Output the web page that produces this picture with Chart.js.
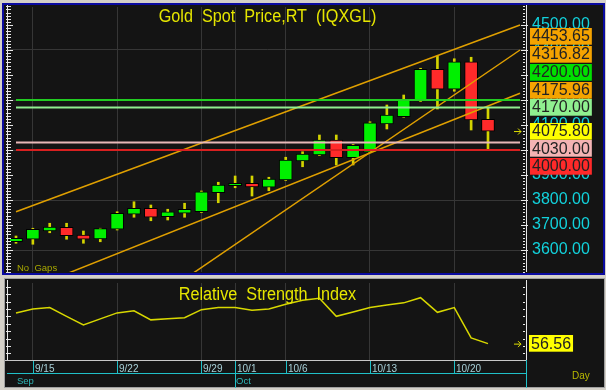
<!DOCTYPE html>
<html><head><meta charset="utf-8">
<script src="https://cdn.jsdelivr.net/npm/chart.js@4.4.1/dist/chart.umd.min.js"></script>
<style>
html,body{margin:0;padding:0;}
body{width:606px;height:390px;background:#d4d0c8;position:relative;overflow:hidden;}
#p1{position:absolute;left:2px;top:3px;width:599px;height:268px;border:2px solid #0a0aa0;background:#141414;}
#p2{position:absolute;left:4px;top:278px;width:599px;height:108px;border:1px solid #a0a0a0;background:#141414;}
#c1{position:absolute;left:0;top:0;}
#c2{position:absolute;left:0;top:276px;}
</style></head>
<body>
<div id="p1"></div><div id="p2"></div>
<canvas id="c1" width="606" height="276"></canvas>
<canvas id="c2" width="606" height="114"></canvas>
<script>
// ---------- data ----------
const dates  = ['9/12','9/15','9/16','9/17','9/18','9/19','9/22','9/23','9/24','9/25','9/26','9/29','9/30','10/1','10/2','10/3','10/6','10/7','10/8','10/9','10/10','10/13','10/14','10/15','10/16','10/17','10/20','10/21','10/22'];
const months = ['Sep','Oct'];
const monthStart = ['9/12','10/1'];
const axisDates = ['9/15','9/22','9/29','10/1','10/6','10/13','10/20'];
const opens  = [3633,3643,3676,3691,3660,3644,3683,3743,3767,3733,3747,3753,3829,3857,3867,3851,3880,3956,3980,4040,3969,3991,4104,4133,4196,4323,4243,4353,4123];
const highs  = [3656,3687,3707,3707,3676,3687,3753,3793,3780,3763,3787,3836,3871,3896,3896,3891,3971,3993,4060,4060,4022,4113,4180,4220,4327,4376,4365,4371,4167];
const lows   = [3627,3623,3669,3643,3627,3633,3680,3731,3717,3720,3731,3750,3789,3849,3816,3837,3878,3933,3978,3940,3940,3989,4084,4131,4194,4164,4235,4080,4000];
const closes = [3647,3683,3692,3657,3643,3686,3747,3767,3731,3753,3763,3833,3860,3867,3852,3884,3960,3984,4040,3969,4019,4109,4140,4203,4323,4243,4353,4120,4075.8];
const rsi    = [77.3,80.0,80.9,75.0,69.2,73.3,77.3,78.7,72.6,73.3,74.1,79.5,80.9,80.9,79.1,80.0,83.1,85.8,87.2,75.0,77.9,80.9,82.7,84.1,87.6,77.7,80.9,60.4,56.56];
const priceTicks = [4500,4400,4300,4200,4100,4000,3900,3800,3700,3600];
const gridPrices = [4400,4200,4000,3800,3600];
const rsiTicks   = [50,55,60,65,70,75,80,85,90,95];
const levels     = [4200,4170,4030,4000];
const levelSpan  = [0,29.9];
const trendStartX = [0,10.5,3.08];
const trendStartY = [3753,3507,3507];
const trendEndX   = [29.9,29.9,29.9];
const trendEndY   = [4500,4400,4227];
const markerValues = [4453.65,4316.82,4200.00,4175.96,4170.00,4075.80,4030.00,4000.00];
const lastPrice = 4075.80;
const rsiLast = 56.56;

// ---------- styles ----------
const FONT = '"Liberation Sans", Arial, sans-serif';
const levelColors  = ['#22cc22','#90ee90','#e8b8b8','#d82020'];
const markerColors = ['#f5a300','#f5a300','#00e000','#f5a300','#90f090','#ffff00','#f4b4b4','#ff2a2a'];
const X_MIN = -0.4746, X_MAX = 30.314;
const idx = dates.map((d,i)=>i);
const gridIdx = axisDates.map(d=>dates.indexOf(d));
const up = idx.map(i=>closes[i]>=opens[i]);

function xScaleOpts(){
  return {type:'linear', min:X_MIN, max:X_MAX, offset:false,
    grid:{color:'#363636', lineWidth:1, drawTicks:false, offset:false},
    border:{display:false}, ticks:{display:false},
    afterBuildTicks:s=>{s.ticks = gridIdx.map(v=>({value:v}));},
    afterFit:s=>{s.height=0;}};
}

function arrow(ctx,x,y){
  ctx.save(); ctx.strokeStyle='#e0e000'; ctx.lineWidth=1;
  ctx.beginPath(); ctx.moveTo(x-7,y+0.5); ctx.lineTo(x,y+0.5);
  ctx.moveTo(x-3,y-2.5); ctx.lineTo(x,y+0.5); ctx.lineTo(x-3,y+3.5); ctx.stroke(); ctx.restore();
}
function vAxis(ctx, x, top, bottom, minor, major, dir){
  ctx.save(); ctx.strokeStyle='#e8e8e8'; ctx.lineWidth=1;
  ctx.beginPath(); ctx.moveTo(x+0.5,top); ctx.lineTo(x+0.5,bottom); ctx.stroke();
  ctx.beginPath();
  minor.forEach(y=>{ ctx.moveTo(x-1,Math.round(y)+0.5); ctx.lineTo(x+3*dir+ (dir>0?1:0),Math.round(y)+0.5); });
  major.forEach(y=>{ ctx.moveTo(x-(dir<0?5:1),Math.round(y)+0.5); ctx.lineTo(x+(dir>0?6:2),Math.round(y)+0.5); });
  ctx.stroke(); ctx.restore();
}
function titleText(ctx, txt, cx, y){
  ctx.save(); ctx.fillStyle='#e6e600'; ctx.font='18px '+FONT; ctx.textAlign='center'; ctx.textBaseline='alphabetic';
  ctx.translate(cx, y); ctx.scale(0.9, 1); ctx.fillText(txt, 0, 0); ctx.restore();
}

// ---------- price chart ----------
const pricePlugin = {
  id:'pricePlugin',
  afterDraw(chart){
    const ctx = chart.ctx, a = chart.chartArea, ys = chart.scales.y;
    ctx.save();
    const minor=[], major=[];
    for(let v=3500; v<=4575; v+=12.5){ const p=ys.getPixelForValue(v); if(p>=a.top-2 && p<=a.bottom) (v%100===0?major:minor).push(p); }
    vAxis(ctx, 7, a.top-2, a.bottom, minor, major, 1);
    vAxis(ctx, a.right-1, a.top-2, a.bottom, minor, major, -1);
    ctx.font = '16px '+FONT; ctx.textBaseline='middle'; ctx.textAlign='left';
    ctx.fillStyle = '#12d2dc';
    priceTicks.forEach(v=>ctx.fillText(v.toFixed(2), a.right+5, ys.getPixelForValue(v)));
    const order = markerValues.map((v,k)=>k).sort((p,q)=>markerValues[q]-markerValues[p]);
    const yTrue = order.map(k=>ys.getPixelForValue(markerValues[k]));
    const anchor = order.findIndex(k=>markerValues[k]===lastPrice);
    const H = 17.7, yPos = yTrue.slice();
    for(let i=anchor-1;i>=0;i--) yPos[i]=Math.min(yTrue[i], yPos[i+1]-H);
    for(let i=anchor+1;i<yPos.length;i++) yPos[i]=Math.max(yTrue[i], yPos[i-1]+H);
    order.forEach((k,i)=>{
      const txt = markerValues[k].toFixed(2), w = ctx.measureText(txt).width;
      ctx.fillStyle = markerColors[k];
      ctx.fillRect(a.right+3, Math.round(yPos[i]-8.3), w+4, 16.7);
      ctx.fillStyle = '#222';
      ctx.fillText(txt, a.right+5, yPos[i]+0.5);
    });
    arrow(ctx, a.right-6, ys.getPixelForValue(lastPrice));
    titleText(ctx, 'Gold  Spot  Price,RT  (IQXGL)', (a.left+a.right)/2, 21.5);
    ctx.font='9.5px '+FONT; ctx.textAlign='left'; ctx.textBaseline='alphabetic'; ctx.fillStyle='#a8a800';
    ctx.fillText('No  Gaps', 17, 271);
    ctx.restore();
  }
};

const priceDatasets = [];
levels.forEach((v,k)=>priceDatasets.push({type:'line', data:[{x:levelSpan[0],y:v},{x:levelSpan[1],y:v}],
  borderColor:levelColors[k], borderWidth:2, pointRadius:0, order:0}));
trendStartX.forEach((sx,k)=>priceDatasets.push({type:'line', data:[{x:sx,y:trendStartY[k]},{x:trendEndX[k],y:trendEndY[k]}],
  borderColor:'#e0a000', borderWidth:1.5, pointRadius:0, order:0}));
priceDatasets.push({type:'bar', grouped:false, data:idx.map(i=>({x:i,y:[opens[i],closes[i]]})),
  backgroundColor:up.map(u=>u?'#00f000':'#ff2a2a'), borderColor:'#000', borderWidth:1, borderSkipped:false,
  barThickness:13, order:1});
priceDatasets.push({type:'bar', grouped:false, data:idx.map(i=>({x:i,y:[lows[i],highs[i]]})),
  backgroundColor:'#d4d400', barThickness:2, order:2});

new Chart(document.getElementById('c1'), {
  type:'bar',
  data:{datasets:priceDatasets},
  options:{
    responsive:false, animation:false, events:[],
    layout:{padding:{left:8, right:79, top:7, bottom:4}},
    plugins:{legend:{display:false}, tooltip:{enabled:false}, title:{display:false}},
    scales:{
      x:xScaleOpts(),
      y:{type:'linear', min:3512, max:4572,
        grid:{color:'#363636', lineWidth:1, drawTicks:false},
        border:{display:false}, ticks:{display:false},
        afterBuildTicks:s=>{s.ticks = gridPrices.map(v=>({value:v}));},
        afterFit:s=>{s.width=0;}}
    }
  },
  plugins:[pricePlugin]
});

// ---------- RSI chart ----------
const rsiPlugin = {
  id:'rsiPlugin',
  afterDraw(chart){
    const ctx = chart.ctx, a = chart.chartArea, ys = chart.scales.y, xs = chart.scales.x;
    ctx.save();
    const tks = rsiTicks.map(v=>ys.getPixelForValue(v));
    vAxis(ctx, 7, a.top-3, a.bottom, tks, [], 1);
    vAxis(ctx, a.right-1, a.top-3, a.bottom, tks, [], -1);
    ctx.strokeStyle='#c8c8c8'; ctx.lineWidth=1;
    ctx.beginPath(); ctx.moveTo(5,a.bottom+0.5); ctx.lineTo(a.right,a.bottom+0.5); ctx.stroke();
    const axY = a.bottom+13;
    ctx.strokeStyle='#20c0c8';
    ctx.beginPath(); ctx.moveTo(7,axY+0.5); ctx.lineTo(a.right,axY+0.5);
    ctx.moveTo(a.right-0.5,a.bottom); ctx.lineTo(a.right-0.5,112);
    gridIdx.forEach(i=>{ const x=Math.round(xs.getPixelForValue(i))+0.5;
      const isMonth = monthStart.includes(dates[i]);
      ctx.moveTo(x,a.bottom+1); ctx.lineTo(x, isMonth?112:axY); });
    ctx.stroke();
    ctx.font='10px '+FONT; ctx.fillStyle='#a8d0d8'; ctx.textAlign='left'; ctx.textBaseline='alphabetic';
    gridIdx.forEach(i=>ctx.fillText(dates[i], Math.round(xs.getPixelForValue(i))+2, a.bottom+11.5));
    ctx.font='9.5px '+FONT; ctx.fillStyle='#30b8b8';
    months.forEach((m,k)=>{ const i=dates.indexOf(monthStart[k]); ctx.fillText(m, Math.round(xs.getPixelForValue(i))+1, 107.5); });
    ctx.font='10px '+FONT; ctx.fillStyle='#b8b800';
    ctx.fillText('Day', 572, 103);
    ctx.font='16px '+FONT; ctx.textBaseline='middle';
    const ly = ys.getPixelForValue(rsiLast), txt = rsiLast.toFixed(2), w = ctx.measureText(txt).width;
    ctx.fillStyle='#ffff00'; ctx.fillRect(a.right+2, Math.round(ly-8.3), w+4, 16.7);
    ctx.fillStyle='#222'; ctx.fillText(txt, a.right+4, ly+0.5);
    arrow(ctx, a.right-6, ly);
    titleText(ctx, 'Relative  Strength  Index', (a.left+a.right)/2, 24);
    ctx.restore();
  }
};

new Chart(document.getElementById('c2'), {
  type:'line',
  data:{datasets:[{data:idx.map(i=>({x:i,y:rsi[i]})), borderColor:'#d8d800', borderWidth:1.5, pointRadius:0, tension:0}]},
  options:{
    responsive:false, animation:false, events:[],
    layout:{padding:{left:8, right:79, top:7, bottom:30}},
    plugins:{legend:{display:false}, tooltip:{enabled:false}},
    scales:{
      x:xScaleOpts(),
      y:{type:'linear', min:45.5, max:97.5, grid:{display:false}, border:{display:false}, ticks:{display:false},
        afterFit:s=>{s.width=0;}}
    }
  },
  plugins:[rsiPlugin]
});
</script>
</body></html>
